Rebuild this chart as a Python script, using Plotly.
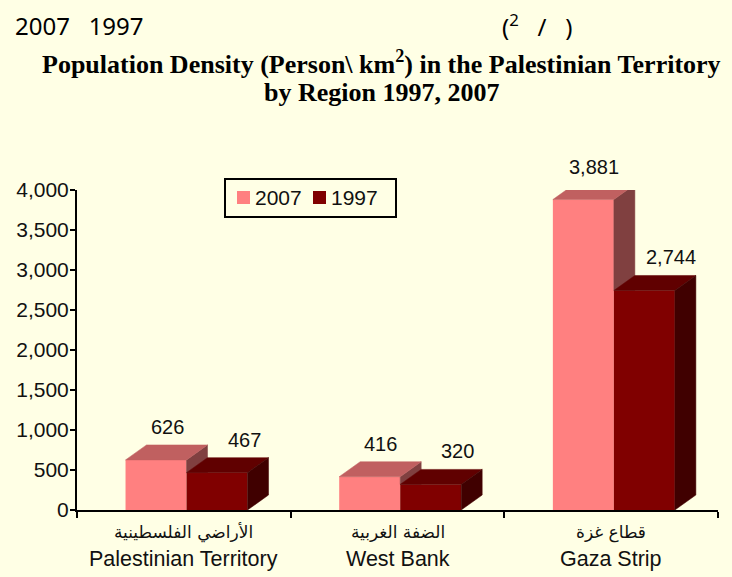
import plotly.graph_objects as go

# ---------------- data ----------------
categories_en = ["Palestinian Territory", "West Bank", "Gaza Strip"]
categories_ar = ["الأراضي الفلسطينية", "الضفة الغربية", "قطاع غزة"]
series_names = ["2007", "1997"]
values_2007 = [626, 416, 3881]
values_1997 = [467, 320, 2744]
y_tick_values = [0, 500, 1000, 1500, 2000, 2500, 3000, 3500, 4000]

# ---------------- style / geometry ----------------
W, H = 732, 577
L, R, T, B = 77, 14, 190, 67
PLOT_W = W - L - R
PLOT_H = H - T - B
YMAX = 4000
BG = "#FFFFE5"
FONT = "Liberation Sans, Arial, sans-serif"

x_pos = list(range(len(categories_en)))
px_per_x = PLOT_W / 3.0
px_per_y = PLOT_H / YMAX
BAR_W = 61 / px_per_x
SHIFT = 2.7 / px_per_x
DX = 21 / px_per_x
DY = 15 / px_per_y

front = {"2007": "#FF8080", "1997": "#800000"}
top_c = {"2007": "#C06060", "1997": "#600000"}
side_c = {"2007": "#804040", "1997": "#400000"}


def px2paper(px, py):
    return (px - L) / PLOT_W, (H - B - py) / PLOT_H


fig = go.Figure()

# front faces
fig.add_trace(go.Bar(x=x_pos, y=values_2007, width=BAR_W, offset=-BAR_W + SHIFT,
                     marker=dict(color=front["2007"], line=dict(width=0)),
                     name="2007", showlegend=False, hoverinfo="y"))
fig.add_trace(go.Bar(x=x_pos, y=values_1997, width=BAR_W, offset=SHIFT,
                     marker=dict(color=front["1997"], line=dict(width=0)),
                     name="1997", showlegend=False, hoverinfo="y"))


def poly(xs, ys, color):
    fig.add_trace(go.Scatter(x=xs + [xs[0]], y=ys + [ys[0]], mode="lines", fill="toself",
                             fillcolor=color, line=dict(color=color, width=0.5),
                             showlegend=False, hoverinfo="skip"))


for i, xc in enumerate(x_pos):
    v7, v9 = values_2007[i], values_1997[i]
    a0, a1 = xc - BAR_W + SHIFT, xc + SHIFT
    b0, b1 = xc + SHIFT, xc + BAR_W + SHIFT
    if v7 > v9:
        poly([a1, a1, a1 + DX, a1 + DX], [v9, v7, v7 + DY, v9], side_c["2007"])
    poly([a0, a1, a1 + DX, a0 + DX], [v7, v7, v7 + DY, v7 + DY], top_c["2007"])
    poly([b0, b1, b1 + DX, b0 + DX], [v9, v9, v9 + DY, v9 + DY], top_c["1997"])
    poly([b1, b1, b1 + DX, b1 + DX], [0, v9, v9 + DY, DY], side_c["1997"])

annotations = []
# data labels
for i, xc in enumerate(x_pos):
    annotations.append(dict(x=xc - BAR_W / 2 + SHIFT, y=values_2007[i], xref="x", yref="y",
                            text=f"{values_2007[i]:,}", showarrow=False, xshift=11, yshift=33,
                            font=dict(family=FONT, size=20, color="#111")))
    annotations.append(dict(x=xc + BAR_W / 2 + SHIFT, y=values_1997[i], xref="x", yref="y",
                            text=f"{values_1997[i]:,}", showarrow=False, xshift=27, yshift=33,
                            font=dict(family=FONT, size=20, color="#111")))

# category labels
for i, xc in enumerate(x_pos):
    annotations.append(dict(x=xc, y=0, xref="x", yref="y", text=categories_ar[i], showarrow=False,
                            yshift=-22, font=dict(family="DejaVu Sans, Noto Sans, sans-serif", size=17, color="#111")))
    annotations.append(dict(x=xc, y=0, xref="x", yref="y", text=categories_en[i], showarrow=False,
                            yshift=-49, font=dict(family=FONT, size=21.5, color="#111")))

# titles
tx, _ = px2paper(381, 0)
_, ty1 = px2paper(0, 62)
_, ty2 = px2paper(0, 92)
TITLE_FONT = dict(family="Liberation Serif, Times New Roman, serif", size=26, color="#000")
annotations.append(dict(x=tx, y=ty1, xref="paper", yref="paper", showarrow=False,
                        text="<b>Population Density (Person\\ km<sup>2</sup>) in the Palestinian Territory</b>",
                        font=TITLE_FONT, xanchor="center", yanchor="middle"))
annotations.append(dict(x=tx, y=ty2, xref="paper", yref="paper", showarrow=False,
                        text="<b>by Region 1997, 2007</b>",
                        font=TITLE_FONT, xanchor="center", yanchor="middle"))

hx, hy = px2paper(13, 25)
annotations.append(dict(x=hx, y=hy, xref="paper", yref="paper", showarrow=False,
                        text="2007   1997", xanchor="left", yanchor="middle",
                        font=dict(family="Noto Sans, sans-serif", size=24, color="#000")))
hx2, _ = px2paper(500, 0)
annotations.append(dict(x=hx2, y=hy, xref="paper", yref="paper", showarrow=False,
                        text="(<sup>2</sup>   /   )", xanchor="left", yanchor="middle",
                        font=dict(family="Noto Sans, sans-serif", size=24, color="#000")))

# custom legend
shapes = []
lx0, ly0 = px2paper(225, 179)
lx1, ly1 = px2paper(396, 217)
shapes.append(dict(type="rect", xref="paper", yref="paper", x0=lx0, y0=ly0, x1=lx1, y1=ly1,
                   line=dict(color="#000", width=2), fillcolor=BG, layer="above"))
legend_items = [(237, series_names[0], front["2007"]), (313, series_names[1], front["1997"])]
for sx, name, col in legend_items:
    a, b = px2paper(sx, 191)
    c, d = px2paper(sx + 13, 204)
    shapes.append(dict(type="rect", xref="paper", yref="paper", x0=a, y0=b, x1=c, y1=d,
                       line=dict(width=0), fillcolor=col, layer="above"))
    tx0, tyl = px2paper(sx + 16, 197.5)
    annotations.append(dict(x=tx0, y=tyl, xref="paper", yref="paper", text=name, showarrow=False,
                            xanchor="left", yanchor="middle",
                            font=dict(family=FONT, size=21, color="#111")))

fig.update_layout(
    width=W, height=H,
    margin=dict(l=L, r=R, t=T, b=B, pad=0),
    paper_bgcolor=BG, plot_bgcolor=BG,
    barmode="overlay",
    showlegend=False,
    annotations=annotations,
    shapes=shapes,
    xaxis=dict(range=[-0.5, 2.5], showgrid=False, zeroline=False, showticklabels=False,
               showline=True, linecolor="#000", linewidth=2, ticks="",
               tickvals=x_pos,
               minor=dict(tickvals=[-0.5, 0.5, 1.5, 2.5], ticks="outside", ticklen=6,
                          tickwidth=2, tickcolor="#000", showgrid=False)),
    yaxis=dict(range=[0, YMAX], tickvals=y_tick_values, tickformat=",", showgrid=False,
               zeroline=False, showline=True, linecolor="#000", linewidth=2,
               ticks="outside", ticklen=5, tickwidth=2, tickcolor="#000",
               ticklabelstandoff=-3,
               tickfont=dict(family=FONT, size=21, color="#111")),
)

fig.write_html("out.html", config={"displayModeBar": False},
               post_script="document.body.style.margin='0';document.body.style.padding='0';"
                           "document.body.style.background='" + BG + "';")
